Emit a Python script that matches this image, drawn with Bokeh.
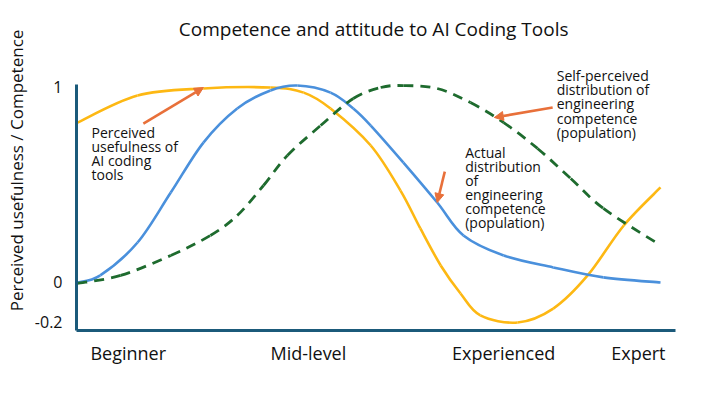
from bokeh.plotting import figure
from bokeh.models import Range1d, FixedTicker, Label, Arrow, NormalHead
from bokeh.embed import file_html
from bokeh.resources import INLINE

FONT = "Open Sans"

# ---- data (x: 0 = start of curve, 1 = end of curve) ----
useful_x = [0.0, 0.103, 0.216, 0.331, 0.388, 0.434, 0.503, 0.554, 0.588, 0.623, 0.657, 0.691, 0.755, 0.816, 0.875, 0.937, 1.0]
useful_y = [0.816, 0.954, 0.990, 0.995, 0.969, 0.888, 0.699, 0.469, 0.276, 0.087, -0.056, -0.168, -0.204, -0.133, 0.036, 0.291, 0.485]

actual_x = [0.0, 0.039, 0.103, 0.160, 0.216, 0.274, 0.331, 0.377, 0.434, 0.473, 0.503, 0.559, 0.617, 0.662, 0.731, 0.816, 0.902, 1.0]
actual_y = [0.0, 0.036, 0.204, 0.459, 0.714, 0.888, 0.980, 1.005, 0.969, 0.888, 0.801, 0.612, 0.408, 0.240, 0.138, 0.077, 0.026, 0.0]

self_x = [0.0, 0.074, 0.160, 0.228, 0.274, 0.319, 0.360, 0.417, 0.473, 0.520, 0.559, 0.617, 0.674, 0.731, 0.789, 0.846, 0.902, 0.995]
self_y = [-0.005, 0.036, 0.138, 0.240, 0.342, 0.495, 0.648, 0.801, 0.939, 0.995, 1.005, 0.990, 0.918, 0.816, 0.684, 0.531, 0.378, 0.199]

x_ticks = [0.087, 0.396, 0.731, 0.962]
x_tick_labels = ["Beginner", "Mid-level", "Experienced", "Expert"]
y_ticks = [-0.2, 0, 1]
y_tick_labels = ["-0.2", "0", "1"]

title_text = "Competence and attitude to AI Coding Tools"
title_pos = (0.508, 1.296)
y_label = "Perceived usefulness / Competence"

# annotation texts: (text, x, y_top)
notes = [
    ("Perceived\nusefulness of\nAI coding\ntools", 0.024, 0.814),
    ("Self-perceived\ndistribution of\nengineering\ncompetence\n(population)", 0.822, 1.103),
    ("Actual\ndistribution\nof\nengineering\ncompetence\n(population)", 0.665, 0.712),
]
# arrows: (x_tail, y_tail, x_head, y_head)
arrows = [
    (0.113, 0.811, 0.216, 0.995),
    (0.815, 0.893, 0.715, 0.842),
    (0.630, 0.566, 0.617, 0.408),
]

YELLOW = "#FDB813"
BLUE = "#4A90DC"
GREEN = "#1E6B2E"
ORANGE = "#E8703A"
AXIS = "#1B5A7A"


def smooth_segments(xs, ys):
    """Catmull-Rom spline through the read points, expressed as cubic Bezier segments."""
    n = len(xs)
    x0, y0, x1, y1, cx0, cy0, cx1, cy1 = [], [], [], [], [], [], [], []
    for i in range(n - 1):
        xa, ya = xs[max(i - 1, 0)], ys[max(i - 1, 0)]
        xb, yb = xs[i], ys[i]
        xc, yc = xs[i + 1], ys[i + 1]
        xd, yd = xs[min(i + 2, n - 1)], ys[min(i + 2, n - 1)]
        x0.append(xb); y0.append(yb); x1.append(xc); y1.append(yc)
        cx0.append(xb + (xc - xa) / 6.0); cy0.append(yb + (yc - ya) / 6.0)
        cx1.append(xc - (xd - xb) / 6.0); cy1.append(yc - (yd - yb) / 6.0)
    return dict(x0=x0, y0=y0, x1=x1, y1=y1, cx0=cx0, cy0=cy0, cx1=cx1, cy1=cy1)


p = figure(width=701, height=383, output_backend="svg", toolbar_location=None,
           x_range=Range1d(-0.0017, 1.0257), y_range=Range1d(-0.245, 1.388),
           min_border_left=76, min_border_right=26, min_border_top=10, min_border_bottom=53)
p.outline_line_color = None
p.grid.visible = False
p.background_fill_color = "white"
p.border_fill_color = "white"

p.add_layout(Label(x=title_pos[0], y=title_pos[1], text=title_text, text_font=FONT, text_font_size="19px",
                   text_color="#111111", text_align="center", text_baseline="middle"))

p.bezier(**smooth_segments(useful_x, useful_y), line_color=YELLOW, line_width=2.6)
p.bezier(**smooth_segments(actual_x, actual_y), line_color=BLUE, line_width=2.6)
p.bezier(**smooth_segments(self_x, self_y), line_color=GREEN, line_width=2.8, line_dash="10 7")

for (x0, y0, x1, y1) in arrows:
    p.add_layout(Arrow(x_start=x0, y_start=y0, x_end=x1, y_end=y1, line_color=ORANGE, line_width=2.6,
                       end=NormalHead(size=9, fill_color=ORANGE, line_color=ORANGE)))

for (t, x, y) in notes:
    p.add_layout(Label(x=x, y=y, text=t, text_font=FONT, text_font_size="14px", text_color="#111111",
                       text_baseline="top", text_align="left", text_line_height=0.74))

for ax in (p.xaxis[0], p.yaxis[0]):
    ax.axis_line_color = AXIS
    ax.axis_line_width = 3
    ax.major_tick_line_color = None
    ax.minor_tick_line_color = None
    ax.major_label_text_font = FONT
    ax.major_label_text_color = "#111111"

p.xaxis.ticker = FixedTicker(ticks=x_ticks)
p.xaxis.major_label_overrides = {t: l for t, l in zip(x_ticks, x_tick_labels)}
p.xaxis.major_label_text_font_size = "18px"
p.xaxis.major_label_standoff = 4
p.xaxis.bounds = (-0.0017, 1.0257)

p.yaxis.ticker = FixedTicker(ticks=y_ticks)
p.yaxis.major_label_overrides = {t: l for t, l in zip(y_ticks, y_tick_labels)}
p.yaxis.major_label_text_font_size = "16px"
p.yaxis.major_label_standoff = 8
p.yaxis.bounds = (-0.245, 1.01)
p.yaxis.axis_label = y_label
p.yaxis.axis_label_text_font = FONT
p.yaxis.axis_label_text_font_size = "17px"
p.yaxis.axis_label_text_font_style = "normal"
p.yaxis.axis_label_text_color = "#111111"
p.yaxis.axis_label_standoff = 4

open("out.html", "w").write(file_html(p, INLINE))
